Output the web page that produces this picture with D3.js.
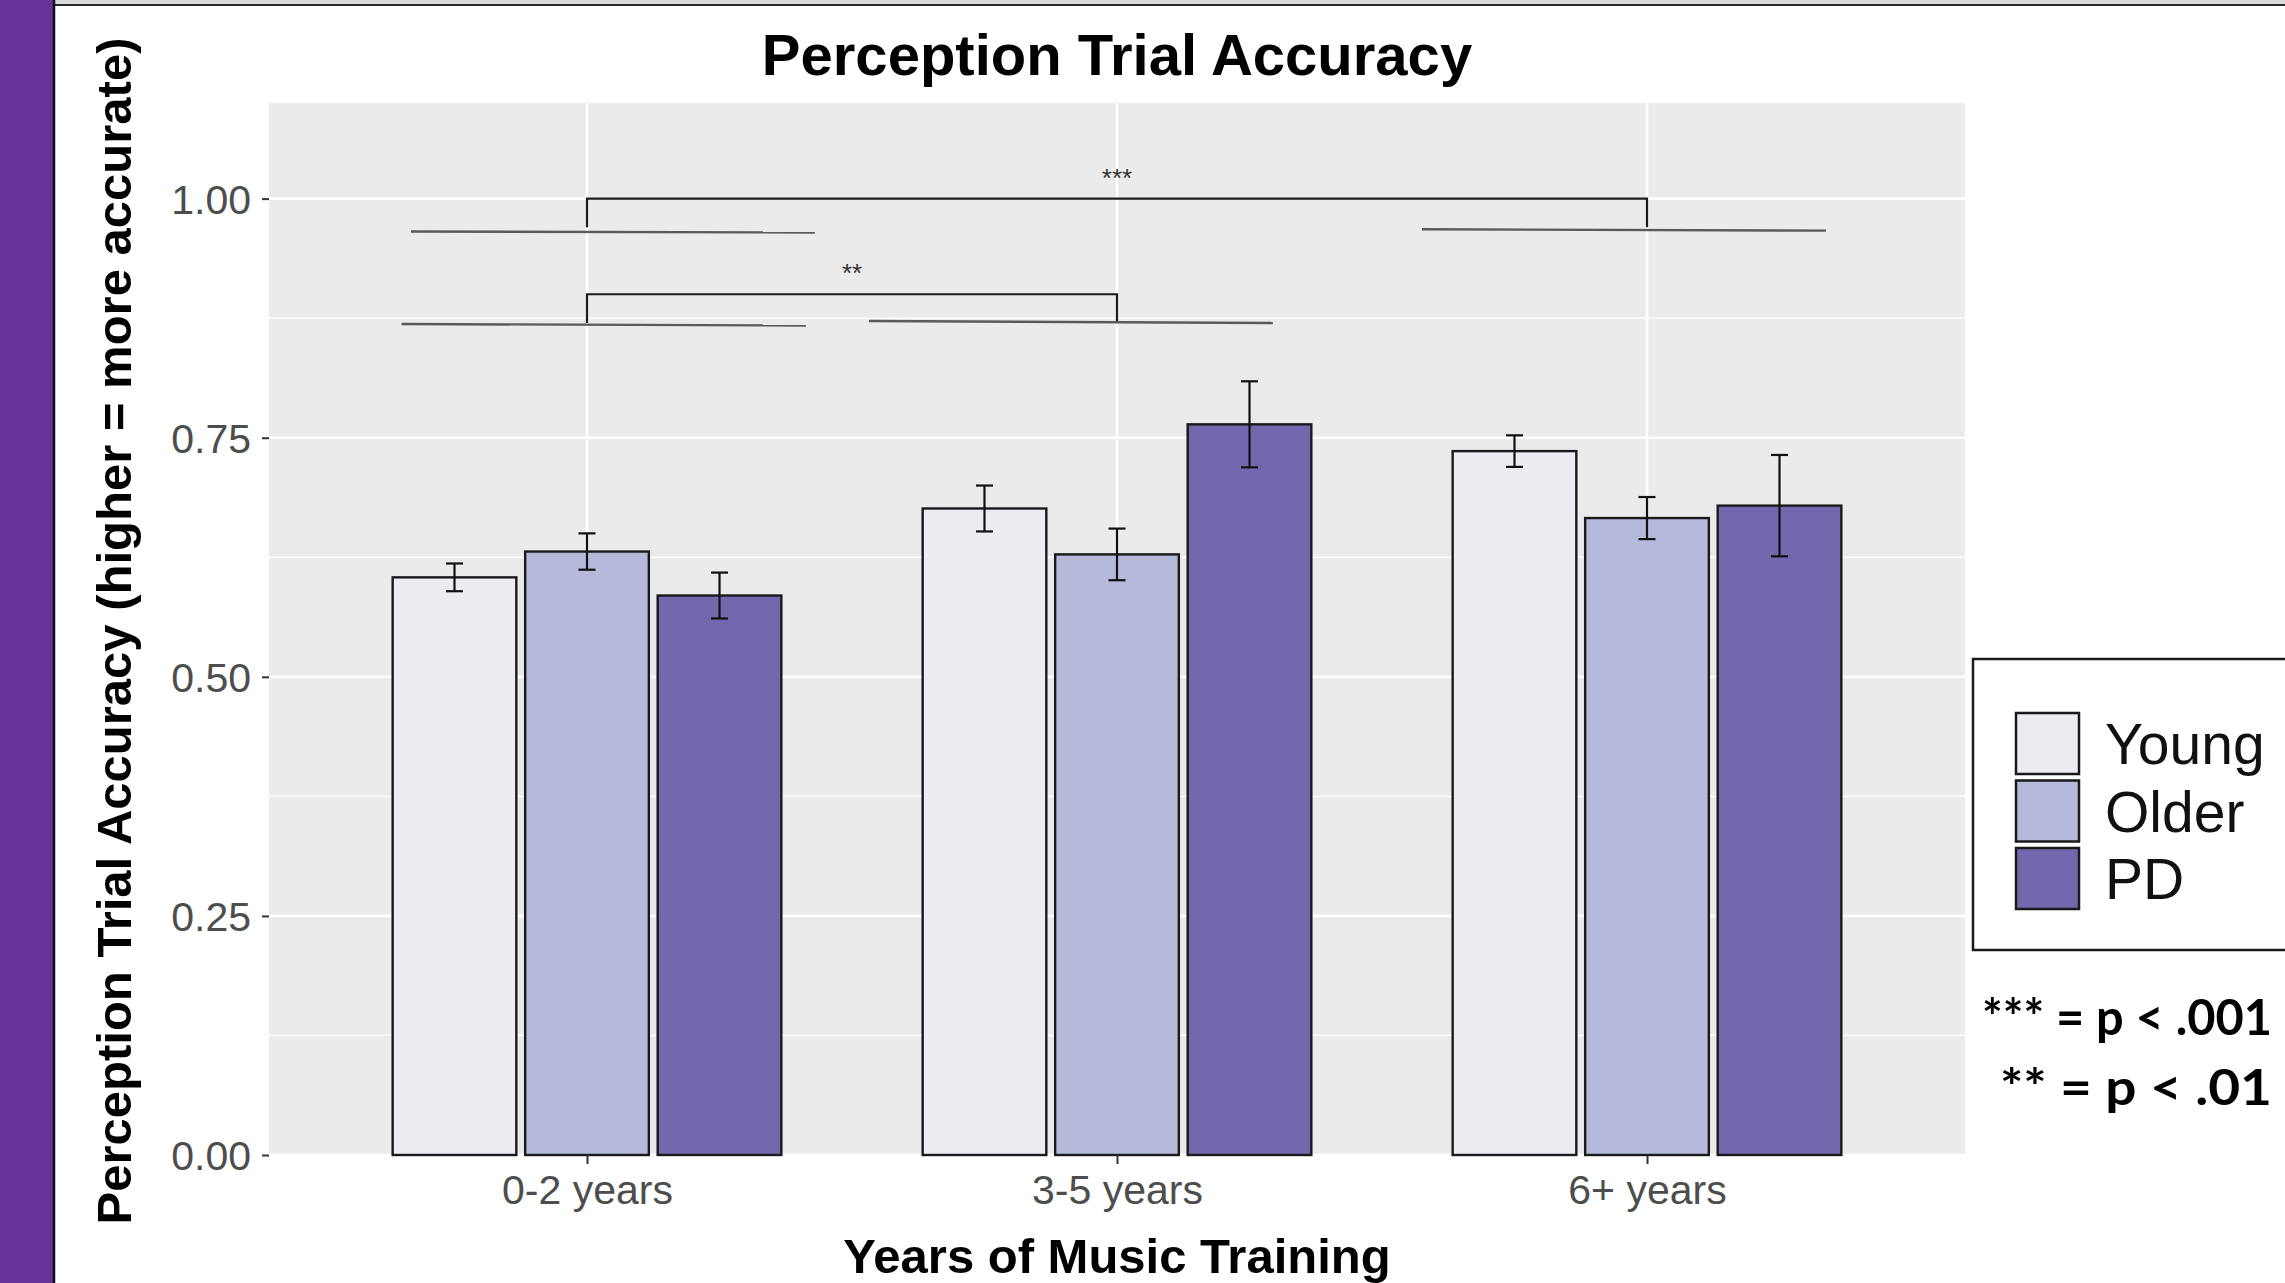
<!DOCTYPE html>
<html>
<head>
<meta charset="utf-8">
<script src="https://cdn.jsdelivr.net/npm/d3@7"></script>
<style>
  body { margin: 0; background: #fff; }
  svg { display: block; }
</style>
</head>
<body>
<svg id="chart" width="2285" height="1283"></svg>
<script>
// ---- data ----
const categories = ["0-2 years", "3-5 years", "6+ years"];
const groups = ["Young", "Older", "PD"];
const youngMean = [0.604, 0.676, 0.736];
const olderMean = [0.631, 0.628, 0.666];
const pdMean    = [0.585, 0.764, 0.679];
const youngSE = [0.0145, 0.024, 0.0165];
const olderSE = [0.019, 0.027, 0.022];
const pdSE    = [0.024, 0.045, 0.053];
const yTicks = [0, 0.25, 0.5, 0.75, 1.0];
const yMinorTicks = [0.125, 0.375, 0.625, 0.875];
const groupColors = ["#eeebf3", "#b7b9db", "#7467ae"];

// pairwise comparisons shown as brackets
const comparisons = [
  { from: "0-2 years", to: "6+ years", y: 1.00, label: "***" },
  { from: "0-2 years", to: "3-5 years", y: 0.90, label: "**" }
];
// underlines marking the compared groups (offsets in category steps)
const underlines = [
  { cat: "0-2 years", x0: -0.332, x1: 0.430, y0: 0.9656, y1: 0.9646 },
  { cat: "6+ years",  x0: -0.4245, x1: 0.3377, y0: 0.968, y1: 0.9665 },
  { cat: "0-2 years", x0: -0.350, x1: 0.413, y0: 0.8689, y1: 0.8673 },
  { cat: "3-5 years", x0: -0.468, x1: 0.294, y0: 0.872, y1: 0.870 }
];
const pNotes = ["*** = p < .001", "** = p < .01"];

const means = [youngMean, olderMean, pdMean];
const ses = [youngSE, olderSE, pdSE];
const rows = [];
groups.forEach((g, gi) => categories.forEach((c, ci) => {
  rows.push({ group: g, cat: c, mean: means[gi][ci], se: ses[gi][ci], color: groupColors[gi] });
}));

// ---- layout ----
const svg = d3.select("#chart");
const panel = { left: 269, right: 1965, top: 103, bottom: 1155 };
const font = "'Liberation Sans', Arial, Helvetica, sans-serif";

// page frame: purple side band and top rule
svg.append("rect").attr("x", 0).attr("y", 0).attr("width", 2285).attr("height", 1283).attr("fill", "#fff");
svg.append("rect").attr("x", 54).attr("y", 0).attr("width", 2231).attr("height", 4).attr("fill", "#d9d9d9");
svg.append("line").attr("x1", 54).attr("x2", 2285).attr("y1", 5).attr("y2", 5)
  .attr("stroke", "#2a2a2a").attr("stroke-width", 2);
svg.append("rect").attr("x", 0).attr("y", 0).attr("width", 53).attr("height", 1283).attr("fill", "#663399");
svg.append("line").attr("x1", 54).attr("x2", 54).attr("y1", 0).attr("y2", 1283)
  .attr("stroke", "#111").attr("stroke-width", 2.5);

// scales
const x = d3.scalePoint().domain(categories).range([panel.left, panel.right]).padding(0.6);
const step = x.step();
const xSub = d3.scaleBand().domain(groups)
  .range([-0.375 * step, 0.375 * step])
  .paddingInner(0.0667).paddingOuter(0.0333);
const y = d3.scaleLinear().domain([0, 1.1]).range([panel.bottom, panel.top]);
const color = d3.scaleOrdinal().domain(groups).range(groupColors);

// panel background and grid
svg.append("rect")
  .attr("x", panel.left).attr("y", panel.top)
  .attr("width", panel.right - panel.left).attr("height", panel.bottom - panel.top)
  .attr("fill", "#ebebeb");
const grid = svg.append("g");
grid.selectAll("line.minor").data(yMinorTicks).join("line")
  .attr("x1", panel.left).attr("x2", panel.right)
  .attr("y1", d => y(d)).attr("y2", d => y(d))
  .attr("stroke", "#fff").attr("stroke-width", 1.3);
grid.selectAll("line.major").data(yTicks).join("line")
  .attr("x1", panel.left).attr("x2", panel.right)
  .attr("y1", d => y(d)).attr("y2", d => y(d))
  .attr("stroke", "#fff").attr("stroke-width", 2.6);
grid.selectAll("line.vert").data(categories).join("line")
  .attr("x1", d => x(d)).attr("x2", d => x(d))
  .attr("y1", panel.top).attr("y2", panel.bottom)
  .attr("stroke", "#fff").attr("stroke-width", 2.6);

// bars
svg.append("g").selectAll("rect").data(rows).join("rect")
  .attr("x", d => x(d.cat) + xSub(d.group))
  .attr("width", xSub.bandwidth())
  .attr("y", d => y(d.mean))
  .attr("height", d => y(0) - y(d.mean))
  .attr("fill", d => color(d.group))
  .attr("stroke", "#1a1a1a").attr("stroke-width", 2.4);

// error bars
const capHalf = 8.5;
const eb = svg.append("g").attr("stroke", "#111").attr("stroke-width", 2.2).attr("fill", "none");
rows.forEach(d => {
  const cx = x(d.cat) + xSub(d.group) + xSub.bandwidth() / 2;
  const yHi = y(d.mean + d.se), yLo = y(d.mean - d.se);
  eb.append("line").attr("x1", cx).attr("x2", cx).attr("y1", yHi).attr("y2", yLo);
  eb.append("line").attr("x1", cx - capHalf).attr("x2", cx + capHalf).attr("y1", yHi).attr("y2", yHi);
  eb.append("line").attr("x1", cx - capHalf).attr("x2", cx + capHalf).attr("y1", yLo).attr("y2", yLo);
});

// significance brackets
const drop = 0.03;
const br = svg.append("g");
comparisons.forEach(c => {
  const x1 = x(c.from), x2 = x(c.to);
  br.append("path")
    .attr("d", `M${x1},${y(c.y - drop)}V${y(c.y)}H${x2}V${y(c.y - drop)}`)
    .attr("fill", "none").attr("stroke", "#1a1a1a").attr("stroke-width", 2.2);
  br.append("text")
    .attr("x", (x1 + x2) / 2).attr("y", y(c.y) - 12)
    .attr("text-anchor", "middle")
    .attr("font-family", font).attr("font-size", 26).attr("fill", "#333")
    .text(c.label);
});
br.selectAll("line.under").data(underlines).join("line")
  .attr("x1", d => x(d.cat) + d.x0 * step).attr("x2", d => x(d.cat) + d.x1 * step)
  .attr("y1", d => y(d.y0)).attr("y2", d => y(d.y1))
  .attr("stroke", "#5a5a5a").attr("stroke-width", 2.4);

// axes
const yAxis = svg.append("g").attr("transform", `translate(${panel.left},0)`)
  .call(d3.axisLeft(y).tickValues(yTicks).tickFormat(d3.format(".2f")).tickSize(7).tickPadding(11));
const xAxis = svg.append("g").attr("transform", `translate(0,${panel.bottom})`)
  .call(d3.axisBottom(x).tickSize(9).tickPadding(11));
[yAxis, xAxis].forEach(a => {
  a.select(".domain").remove();
  a.selectAll(".tick line").attr("stroke", "#333").attr("stroke-width", 2);
  a.selectAll(".tick text").attr("fill", "#4d4d4d").attr("font-family", font).attr("font-size", 41);
});
yAxis.selectAll(".tick text").attr("dy", "0.36em");

// titles
svg.append("text")
  .attr("x", (panel.left + panel.right) / 2).attr("y", 75)
  .attr("text-anchor", "middle")
  .attr("font-family", font).attr("font-weight", "bold").attr("font-size", 58).attr("fill", "#000")
  .text("Perception Trial Accuracy");
svg.append("text")
  .attr("x", (panel.left + panel.right) / 2).attr("y", 1273)
  .attr("text-anchor", "middle")
  .attr("font-family", font).attr("font-weight", "bold").attr("font-size", 49).attr("fill", "#000")
  .text("Years of Music Training");
svg.append("text")
  .attr("transform", `translate(131,${(panel.top + panel.bottom) / 2 + 2}) rotate(-90)`)
  .attr("text-anchor", "middle")
  .attr("font-family", font).attr("font-weight", "bold").attr("font-size", 49).attr("fill", "#000")
  .text("Perception Trial Accuracy (higher = more accurate)");

// legend
const legend = svg.append("g");
legend.append("rect")
  .attr("x", 1973).attr("y", 659).attr("width", 420).attr("height", 291)
  .attr("fill", "#fff").attr("stroke", "#1a1a1a").attr("stroke-width", 2.5);
const keyStep = 67.5;
const keys = legend.selectAll("g.key").data(groups).join("g")
  .attr("transform", (d, i) => `translate(2016,${713 + i * keyStep})`);
keys.append("rect")
  .attr("width", 63).attr("height", 61)
  .attr("fill", d => color(d)).attr("stroke", "#1a1a1a").attr("stroke-width", 2.5);
keys.append("text")
  .attr("x", 89).attr("y", 51)
  .attr("font-family", font).attr("font-size", 57).attr("fill", "#111")
  .text(d => d);

// p-value notes
const noteX = [1982, 2000];
const noteW = [290, 272];
svg.append("g").selectAll("text").data(pNotes).join("text")
  .attr("x", (d, i) => noteX[i]).attr("y", (d, i) => 1035 + i * 70)
  .attr("font-family", "Lato, 'Open Sans', sans-serif").attr("font-weight", "bold")
  .attr("font-size", 50).attr("fill", "#000")
  .attr("textLength", (d, i) => noteW[i]).attr("lengthAdjust", "spacingAndGlyphs")
  .text(d => d);
</script>
</body>
</html>
